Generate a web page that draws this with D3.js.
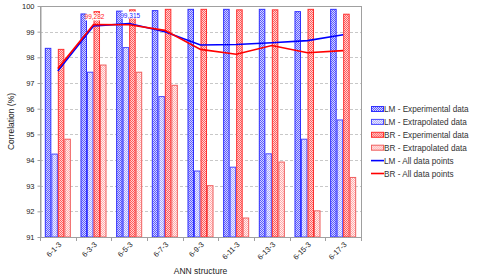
<!DOCTYPE html>
<html>
<head>
<meta charset="utf-8">
<script src="https://cdn.jsdelivr.net/npm/d3@7"></script>
<style>
  body { margin: 0; background: #fff; }
  text { font-family: "Liberation Sans", Arial, sans-serif; fill: #222; }
</style>
</head>
<body>
<svg id="chart"></svg>
<script>
const width = 480;
const height = 280;

const categories = ["6-1-3", "6-3-3", "6-5-3", "6-7-3", "6-9-3", "6-11-3", "6-13-3", "6-15-3", "6-17-3"];
const yTicks = [91, 92, 93, 94, 95, 96, 97, 98, 99, 100];

const lmExperimental = [98.35, 99.69, 99.8, 99.82, 99.87, 99.87, 99.87, 99.78, 99.87];
const lmExtrapolated = [94.23, 97.42, 98.38, 96.47, 93.57, 93.72, 94.24, 94.81, 95.56];
const brExperimental = [98.31, 99.78, 99.85, 99.87, 99.87, 99.85, 99.85, 99.87, 99.68];
const brExtrapolated = [94.81, 97.7, 97.42, 96.91, 93.0, 91.74, 93.92, 92.02, 93.32];
const lmAll = [97.47, 99.22, 99.315, 99.0, 98.48, 98.5, 98.57, 98.65, 98.88];
const brAll = [97.56, 99.282, 99.27, 99.05, 98.31, 98.12, 98.46, 98.18, 98.26];

const barSeries = [
    { name: "LM - Experimental data", values: lmExperimental, pattern: "lmExp", stroke: "#3030ff" },
    { name: "LM - Extrapolated data", values: lmExtrapolated, pattern: "lmExt", stroke: "#4848ff" },
    { name: "BR - Experimental data", values: brExperimental, pattern: "brExp", stroke: "#ff3030" },
    { name: "BR - Extrapolated data", values: brExtrapolated, pattern: "brExt", stroke: "#f06060" }
];
const lineSeries = [
    { name: "LM - All data points", values: lmAll, color: "#0000ff" },
    { name: "BR - All data points", values: brAll, color: "#ff0000" }
];

const plot = { left: 40, right: 361, top: 6, bottom: 237 };

const svg = d3.select("#chart")
    .attr("width", width)
    .attr("height", height);

// Checker patterns for the hatched bars
const defs = svg.append("defs");
const patterns = [
    { id: "lmExp", a: "#5c5cff", b: "#d4d4ff" },
    { id: "lmExt", a: "#a8a8ff", b: "#f0f0ff" },
    { id: "brExp", a: "#ff5c5c", b: "#ffd4d4" },
    { id: "brExt", a: "#ffaaaa", b: "#fff0f0" }
];
patterns.forEach(p => {
    const pat = defs.append("pattern")
        .attr("id", p.id)
        .attr("width", 2)
        .attr("height", 2)
        .attr("patternUnits", "userSpaceOnUse");
    pat.append("rect").attr("width", 2).attr("height", 2).attr("fill", p.b);
    pat.append("rect").attr("width", 1).attr("height", 1).attr("fill", p.a);
    pat.append("rect").attr("x", 1).attr("y", 1).attr("width", 1).attr("height", 1).attr("fill", p.a);
});

const x = d3.scaleBand()
    .domain(categories)
    .range([plot.left, plot.right]);

const bw = x.bandwidth();
const x1 = d3.scaleBand()
    .domain(barSeries.map(d => d.name))
    .range([bw * 0.135, bw * 0.865]);

const y = d3.scaleLinear()
    .domain([91, 100])
    .range([plot.bottom, plot.top]);

// Grid lines
svg.append("g")
    .selectAll("line")
    .data(yTicks.slice(1, -1))
    .enter()
    .append("line")
    .attr("x1", plot.left)
    .attr("x2", plot.right)
    .attr("y1", d => Math.round(y(d)) + 0.5)
    .attr("y2", d => Math.round(y(d)) + 0.5)
    .attr("stroke", "#c8c8c8")
    .attr("stroke-dasharray", "3,2");

// Bars
barSeries.forEach(s => {
    svg.append("g")
        .selectAll("rect")
        .data(s.values)
        .enter()
        .append("rect")
        .attr("x", (d, i) => x(categories[i]) + x1(s.name) + 0.5)
        .attr("y", d => y(d))
        .attr("width", x1.bandwidth() - 1)
        .attr("height", d => y(91) - y(d))
        .attr("fill", `url(#${s.pattern})`)
        .attr("stroke", s.stroke)
        .attr("stroke-width", 1);
});

// Plot frame
svg.append("rect")
    .attr("x", plot.left + 0.5)
    .attr("y", plot.top + 0.5)
    .attr("width", plot.right - plot.left)
    .attr("height", plot.bottom - plot.top)
    .attr("fill", "none")
    .attr("stroke", "#a0a0a0");

// Lines
const line = d3.line()
    .x((d, i) => x(categories[i]) + bw / 2)
    .y(d => y(d));

lineSeries.forEach(s => {
    svg.append("path")
        .datum(s.values)
        .attr("d", line)
        .attr("fill", "none")
        .attr("stroke", s.color)
        .attr("stroke-width", 1.6);
});

// Value labels with white boxes
const valueLabels = [
    { series: brAll, index: 1, color: "#ff2020", dy: -5 },
    { series: lmAll, index: 2, color: "#2020ff", dy: -6 }
];
const vl = svg.selectAll(".value-label")
    .data(valueLabels)
    .enter()
    .append("g")
    .attr("class", "value-label")
    .attr("transform", d => `translate(${x(categories[d.index]) + bw / 2 + 1},${y(d.series[d.index]) + d.dy})`);

vl.append("rect")
    .attr("x", -9)
    .attr("y", -6)
    .attr("width", 18)
    .attr("height", 7)
    .attr("fill", "#fff");

vl.append("text")
    .attr("text-anchor", "middle")
    .attr("font-size", 6.5)
    .style("fill", d => d.color)
    .text(d => d.series[d.index].toString().replace(".", ","));

// Y axis
const yAxis = svg.append("g")
    .attr("transform", `translate(${plot.left + 0.5},0)`)
    .call(d3.axisLeft(y).tickValues(yTicks).tickSize(3).tickSizeOuter(0).tickPadding(3));
yAxis.select(".domain").attr("stroke", "#a0a0a0");
yAxis.selectAll(".tick line").attr("stroke", "#a0a0a0");
yAxis.selectAll(".tick text")
    .attr("font-size", 7.5)
    .attr("font-family", "Liberation Sans, Arial, sans-serif")
    .style("fill", "#222");

// X axis: ticks on category boundaries
svg.append("g")
    .selectAll("line")
    .data(categories.concat(["end"]))
    .enter()
    .append("line")
    .attr("x1", (d, i) => Math.round(plot.left + i * bw) + 0.5)
    .attr("x2", (d, i) => Math.round(plot.left + i * bw) + 0.5)
    .attr("y1", plot.bottom + 0.5)
    .attr("y2", plot.bottom + 4)
    .attr("stroke", "#a0a0a0");

svg.append("g")
    .selectAll("text")
    .data(categories)
    .enter()
    .append("text")
    .attr("transform", d => `translate(${x(d) + bw / 2 + 4},${plot.bottom + 8}) rotate(-45)`)
    .attr("text-anchor", "end")
    .attr("font-size", 7.5)
    .text(d => d);

// Axis titles
svg.append("text")
    .attr("x", (plot.left + plot.right) / 2)
    .attr("y", 274)
    .attr("text-anchor", "middle")
    .attr("font-size", 8.5)
    .text("ANN structure");

svg.append("text")
    .attr("transform", `translate(14,${(plot.top + plot.bottom) / 2}) rotate(-90)`)
    .attr("text-anchor", "middle")
    .attr("font-size", 8.5)
    .text("Correlation (%)");

// Legend
const legendItems = barSeries.map(d => ({ ...d, type: "bar" }))
    .concat(lineSeries.map(d => ({ ...d, type: "line" })));

const legend = svg.selectAll(".legend")
    .data(legendItems)
    .enter()
    .append("g")
    .attr("class", "legend")
    .attr("transform", (d, i) => `translate(371,${109 + i * 12.9})`);

legend.filter(d => d.type === "bar")
    .append("rect")
    .attr("x", 0.5)
    .attr("y", -2.5)
    .attr("width", 12)
    .attr("height", 5)
    .attr("fill", d => `url(#${d.pattern})`)
    .attr("stroke", d => d.stroke);

legend.filter(d => d.type === "line")
    .append("line")
    .attr("x1", 0)
    .attr("x2", 13)
    .attr("y1", 0)
    .attr("y2", 0)
    .attr("stroke", d => d.color)
    .attr("stroke-width", 1.6);

legend.append("text")
    .attr("x", 13)
    .attr("y", 3)
    .attr("font-size", 8.2)
    .style("fill", "#333")
    .text(d => d.name);
</script>
</body>
</html>
